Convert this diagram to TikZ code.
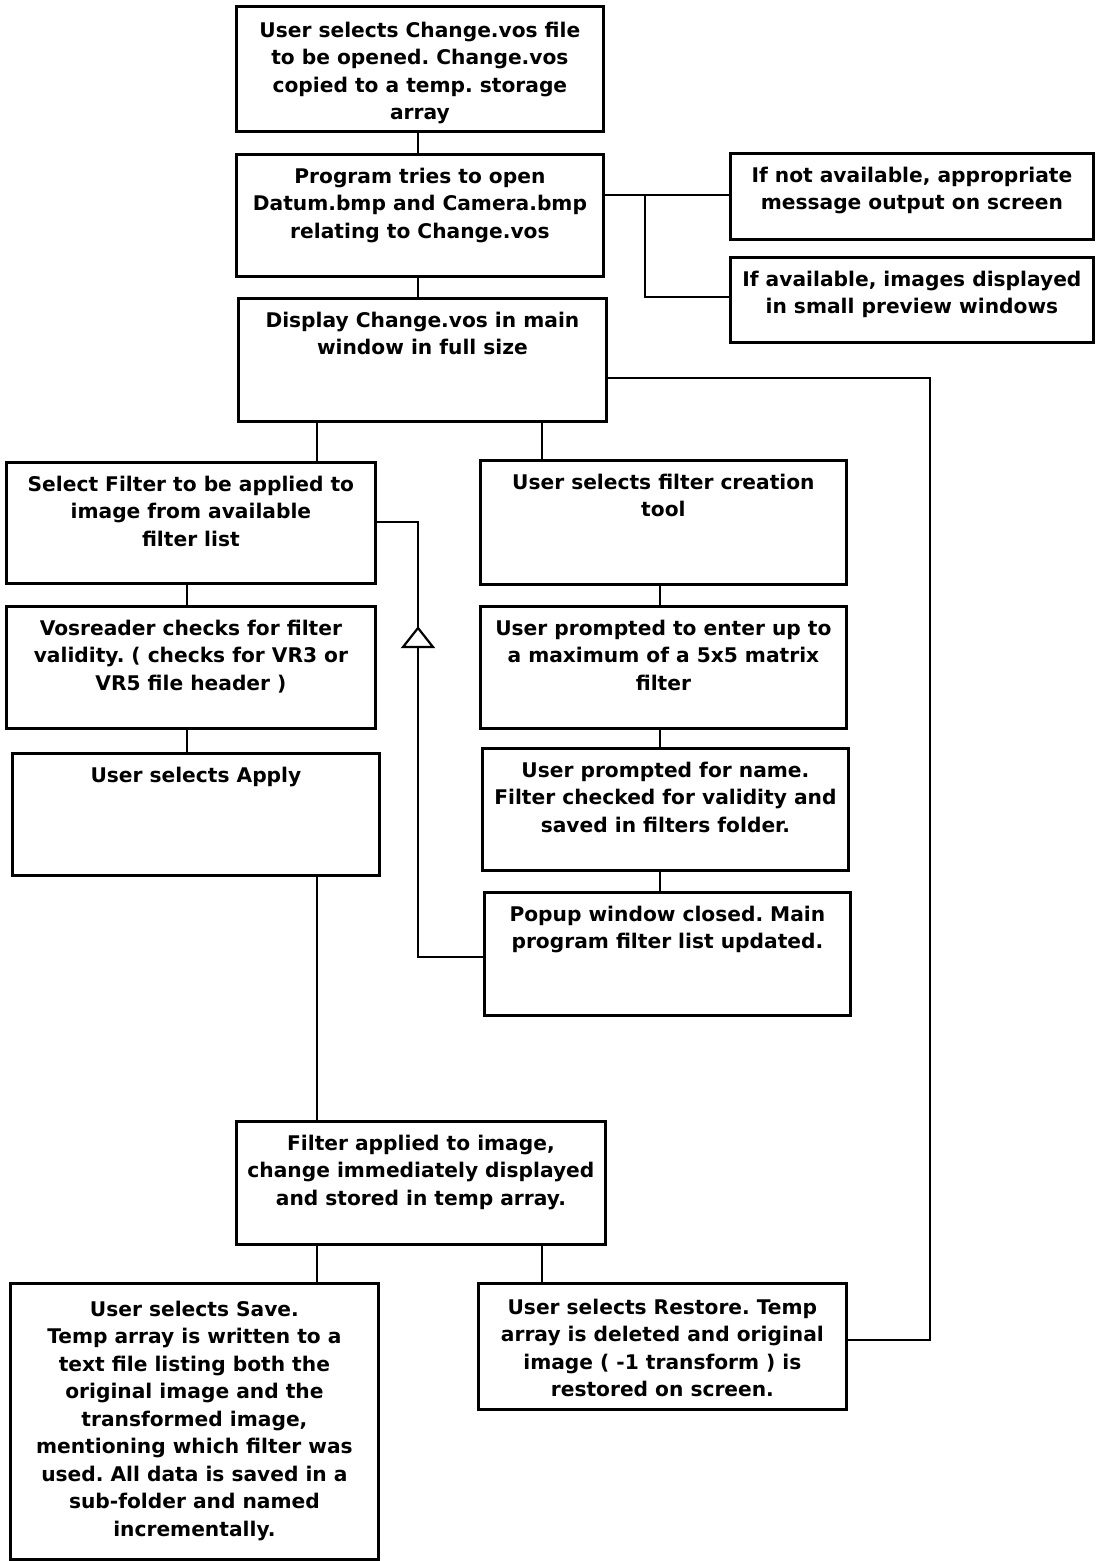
\documentclass[tikz,border=0pt]{standalone}
\usepackage{fontspec}
\setmainfont{DejaVu Sans}
\usetikzlibrary{calc}
\frenchspacing
\newcommand{\bxt}[3]{\parbox[c][#2pt][t]{#1pt}{\centering\fontsize{20.2}{27.5}\bfseries\selectfont\rule{0pt}{29pt}#3\par}}
\tikzset{
  box/.style={draw, line width=2.8pt, inner sep=0pt, anchor=north west},
  conn/.style={draw, line width=2.2pt},
}
\begin{document}
\begin{tikzpicture}[x=1pt,y=-1pt]
\useasboundingbox (0,0) rectangle (1099,1561);
\node[box] (b1) at (235,5) {\bxt{367}{125}{\rule{0pt}{31pt}User selects Change.vos file\\to be opened. Change.vos\\copied to a temp. storage\\array}};
\node[box] (b2) at (235,153) {\bxt{367}{122}{Program tries to open\\Datum.bmp and Camera.bmp\\relating to Change.vos}};
\node[box] (b3) at (729,152) {\bxt{363}{86}{If not available, appropriate\\message output on screen}};
\node[box] (b4) at (729,256) {\bxt{363}{85}{If available, images displayed\\in small preview windows}};
\node[box] (b5) at (237,297) {\bxt{368}{123}{Display Change.vos in main\\window in full size}};
\node[box] (b6) at (5,461) {\bxt{369}{121}{Select Filter to be applied to\\image from available\\filter list}};
\node[box] (b7) at (479,459) {\bxt{366}{124}{User selects filter creation\\tool}};
\node[box] (b8) at (5,605) {\bxt{369}{122}{Vosreader checks for filter\\validity. ( checks for VR3 or\\VR5 file header )}};
\node[box] (b9) at (479,605) {\bxt{366}{122}{User prompted to enter up to\\a maximum of a 5x5 matrix\\filter}};
\node[box] (b10) at (11,752) {\bxt{367}{122}{User selects Apply}};
\node[box] (b11) at (481,747) {\bxt{366}{122}{User prompted for name.\\Filter checked for validity and\\saved in filters folder.}};
\node[box] (b12) at (483,891) {\bxt{366}{123}{Popup window closed. Main\\program filter list updated.}};
\node[box] (b13) at (235,1120) {\bxt{369}{123}{Filter applied to image,\\change immediately displayed\\and stored in temp array.}};
\node[box] (b14) at (9,1282) {\bxt{368}{276}{\rule{0pt}{33pt}User selects Save.\\Temp array is written to a\\text file listing both the\\original image and the\\transformed image,\\mentioning which filter was\\used. All data is saved in a\\sub-folder and named\\incrementally.}};
\node[box] (b15) at (477,1282) {\bxt{368}{126}{\rule{0pt}{31pt}User selects Restore. Temp\\array is deleted and original\\image ( -1 transform ) is\\restored on screen.}};
% helper coordinates
\coordinate (x317) at (317,0);
\coordinate (x542) at (542,0);
\coordinate (x187) at (187,0);
\coordinate (x660) at (660,0);
\coordinate (x645) at (645,0);
\coordinate (x930) at (930,0);
\coordinate (x418) at (418,0);
\coordinate (y195) at (0,195);
\coordinate (y297) at (0,297);
\coordinate (y378) at (0,378);
\coordinate (y522) at (0,522);
\coordinate (y957) at (0,957);
\coordinate (y1340) at (0,1340);
\coordinate (tri) at (418,628);
% connectors
\draw[conn] (b1.south -| x418) -- (b2.north -| x418);
\draw[conn] (b2.south -| x418) -- (b5.north -| x418);
\draw[conn] (b2.east |- y195) -- (b3.west |- y195);
\draw[conn] (x645 |- y195) |- (b4.west |- y297);
\draw[conn] (b5.south -| x317) -- (b6.north -| x317);
\draw[conn] (b5.south -| x542) -- (b7.north -| x542);
\draw[conn] (b5.east |- y378) -| (x930 |- y1340) -- (b15.east |- y1340);
\draw[conn] (b6.south -| x187) -- (b8.north -| x187);
\draw[conn] (b8.south -| x187) -- (b10.north -| x187);
\draw[conn] (b7.south -| x660) -- (b9.north -| x660);
\draw[conn] (b9.south -| x660) -- (b11.north -| x660);
\draw[conn] (b11.south -| x660) -- (b12.north -| x660);
\draw[conn] (b12.west |- y957) -| (x418 |- y522) -- (b6.east |- y522);
\draw[conn, fill=white] (tri) -- ++(15,19) -- ++(-30,0) -- cycle;
\draw[conn] (b10.south -| x317) -- (b13.north -| x317);
\draw[conn] (b13.south -| x317) -- (b14.north -| x317);
\draw[conn] (b13.south -| x542) -- (b15.north -| x542);
\end{tikzpicture}
\end{document}
